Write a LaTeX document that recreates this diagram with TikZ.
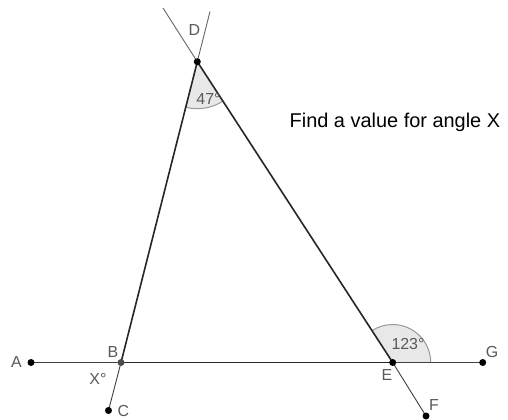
\documentclass[tikz,border=0pt]{standalone}
\usepackage{fontspec}
\setmainfont{Liberation Sans}
\begin{document}
\begin{tikzpicture}[x=1bp,y=-1bp,
  side/.style={line width=1.6bp,black!85},
  ext/.style={line width=0.9bp,black!75},
  pt/.style={circle,fill=black,inner sep=0pt,minimum size=7bp},
  lbl/.style={inner sep=0pt,text=black!65,font=\fontsize{16}{16}\selectfont}]
\useasboundingbox (0,0) rectangle (508,419);
\fill[white] (0,0) rectangle (508,419);
% points
\coordinate (A) at (31,362.5);
\coordinate (B) at (121,362.5);
\coordinate (C) at (108.5,410.5);
\coordinate (D) at (197.3,61.7);
\coordinate (E) at (392.7,362.5);
\coordinate (F) at (426,416);
\coordinate (G) at (482.7,362.5);
\coordinate (D1) at (163,8);
\coordinate (D2) at (210,11.5);
% angle sectors
\fill[black!9] (D) -- ++(104.2:47) arc[start angle=104.2,end angle=56.9,radius=47] -- cycle;
\draw[black!40,line width=1bp] (D) ++(104.2:47) arc[start angle=104.2,end angle=56.9,radius=47];
\fill[black!9] (E) -- ++(0:38) arc[start angle=0,end angle=-123.1,radius=38] -- cycle;
\draw[black!40,line width=1bp] (E) ++(0:38) arc[start angle=0,end angle=-123.1,radius=38];
% lines
\draw[ext] (A) -- (B);
\draw[ext] (B) -- (C);
\draw[ext] (E) -- (G);
\draw[ext] (E) -- (F);
\draw[ext,black!60] (D) -- (D1);
\draw[ext,black!60] (D) -- (D2);
\draw[side] (B) -- (D);
\draw[side] (D) -- (E);
\draw[side] (B) -- (E);
% dots
\node[pt] (nA) at (A) {};
\node[pt,fill=black!70] (nB) at (B) {};
\node[pt] (nC) at (C) {};
\node[pt] (nD) at (D) {};
\node[pt] (nE) at (E) {};
\node[pt] (nF) at (F) {};
\node[pt] (nG) at (G) {};
% labels
\node[lbl] (lA) at (16.5,362) {A};
\node[lbl] (lB) at (113,352) {B};
\node[lbl] (lC) at (123.5,411) {C};
\node[lbl] (lD) at (194.5,30.5) {D};
\node[lbl] (lE) at (387,375) {E};
\node[lbl] (lF) at (434,405) {F};
\node[lbl] (lG) at (492,352) {G};
\node[lbl] (lX) at (98,379) {X°};
\node[lbl] (l47) at (208.5,98.5) {47°};
\node[lbl] (l123) at (408,344) {123°};
\node[anchor=base west,inner sep=0pt,font=\fontsize{20}{20}\selectfont] (title) at (289.5,127) {Find a value for angle X};
\end{tikzpicture}
\end{document}
